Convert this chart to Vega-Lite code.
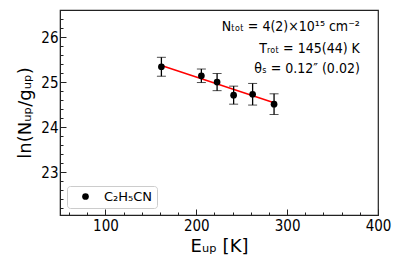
{
  "$schema": "https://vega.github.io/schema/vega-lite/v6.json",
  "width": 318,
  "height": 205,
  "autosize": "none",
  "padding": {"left": 60, "top": 10, "right": 21, "bottom": 51},
  "background": "white",
  "config": {
    "view": {"stroke": "#222", "strokeWidth": 1.2},
    "font": "DejaVu Sans Condensed",
    "axis": {
      "domainColor": "#222",
      "tickColor": "#222",
      "grid": false,
      "labelFont": "DejaVu Sans Condensed",
      "labelFontSize": 15,
      "labelColor": "#000",
      "titleFont": "DejaVu Sans",
      "titleFontWeight": "normal",
      "titleColor": "#000",
      "labelOverlap": false
    }
  },
  "datasets": {
    "pts": [
      {"E": 161.6, "lnN": 25.34, "lo": 25.13, "hi": 25.55, "series": "C₂H₅CN"},
      {"E": 205.6, "lnN": 25.14, "lo": 24.99, "hi": 25.29, "series": "C₂H₅CN"},
      {"E": 222.9, "lnN": 25.00, "lo": 24.81, "hi": 25.19, "series": "C₂H₅CN"},
      {"E": 241.1, "lnN": 24.71, "lo": 24.51, "hi": 24.91, "series": "C₂H₅CN"},
      {"E": 262.0, "lnN": 24.73, "lo": 24.49, "hi": 24.97, "series": "C₂H₅CN"},
      {"E": 285.6, "lnN": 24.51, "lo": 24.28, "hi": 24.74, "series": "C₂H₅CN"}
    ],
    "fit": [
      {"E": 161.6, "lnN": 25.37},
      {"E": 285.6, "lnN": 24.54}
    ],
    "notes": [
      {"E": 380, "lnN": 26.22, "label": "Nₜₒₜ  =  4(2)×10¹⁵ cm⁻²"},
      {"E": 380, "lnN": 25.74, "label": "Tᵣₒₜ  =  145(44) K"},
      {"E": 380, "lnN": 25.28, "label": "θₛ  =  0.12″ (0.02)"}
    ]
  },
  "resolve": {"axis": {"x": "independent", "y": "independent"}},
  "layer": [
    {
      "data": {"name": "fit"},
      "mark": {"type": "line", "color": "#ff0000", "strokeWidth": 1.5},
      "encoding": {
        "x": {"field": "E", "type": "quantitative", "scale": {"domain": [50, 400], "nice": false},
          "axis": {
            "title": "Eᵤₚ [K]",
            "titleFontSize": 18,
            "titlePadding": 4,
            "values": [100, 200, 300, 400],
            "tickSize": -6,
            "labelPadding": 9,
            "labelFlush": false
          }
        },
        "y": {"field": "lnN", "type": "quantitative", "scale": {"domain": [22.05, 26.6], "nice": false, "zero": false},
          "axis": {
            "title": "ln(Nᵤₚ/gᵤₚ)",
            "titleFontSize": 18,
            "titlePadding": 6,
            "values": [23, 24, 25, 26],
            "tickSize": -6,
            "labelPadding": 8,
            "labelFlush": false
          }
        }
      }
    },
    {
      "data": {"name": "pts"},
      "mark": {"type": "errorbar", "ticks": {"size": 9, "color": "#000", "strokeWidth": 1.3}, "rule": {"color": "#000", "strokeWidth": 1.3}},
      "encoding": {
        "x": {"field": "E", "type": "quantitative",
          "axis": {"orient": "bottom", "title": null, "labels": false, "domain": false, "tickSize": -3,
            "values": [60, 80, 120, 140, 160, 180, 220, 240, 260, 280, 320, 340, 360, 380]}},
        "y": {"field": "lo", "type": "quantitative", "title": "ln(Nᵤₚ/gᵤₚ)",
          "axis": {"orient": "left", "title": null, "labels": false, "domain": false, "tickSize": -3,
            "values": [22.2, 22.4, 22.6, 22.8, 23.2, 23.4, 23.6, 23.8, 24.2, 24.4, 24.6, 24.8, 25.2, 25.4, 25.6, 25.8, 26.2, 26.4]}},
        "y2": {"field": "hi"}
      }
    },
    {
      "data": {"name": "pts"},
      "mark": {"type": "point", "filled": true, "shape": "circle", "size": 45, "opacity": 1},
      "encoding": {
        "x": {"field": "E", "type": "quantitative", "axis": null},
        "y": {"field": "lnN", "type": "quantitative", "axis": null},
        "color": {"field": "series", "type": "nominal", "scale": {"range": ["#000000"]},
          "legend": {
            "title": null,
            "orient": "bottom-left",
            "offset": 7,
            "labelFont": "DejaVu Sans",
            "labelFontSize": 13,
            "labelColor": "#000",
            "symbolSize": 45,
            "symbolType": "circle",
            "symbolOffset": 8,
            "labelOffset": 12,
            "padding": 4,
            "strokeColor": "#cccccc",
            "fillColor": "white",
            "cornerRadius": 3
          }
        }
      }
    },
    {
      "data": {"name": "notes"},
      "mark": {"type": "text", "align": "right", "baseline": "middle", "font": "DejaVu Sans Condensed", "fontSize": 14, "color": "#000"},
      "encoding": {
        "x": {"field": "E", "type": "quantitative", "axis": null},
        "y": {"field": "lnN", "type": "quantitative", "axis": null},
        "text": {"field": "label"}
      }
    }
  ]
}
